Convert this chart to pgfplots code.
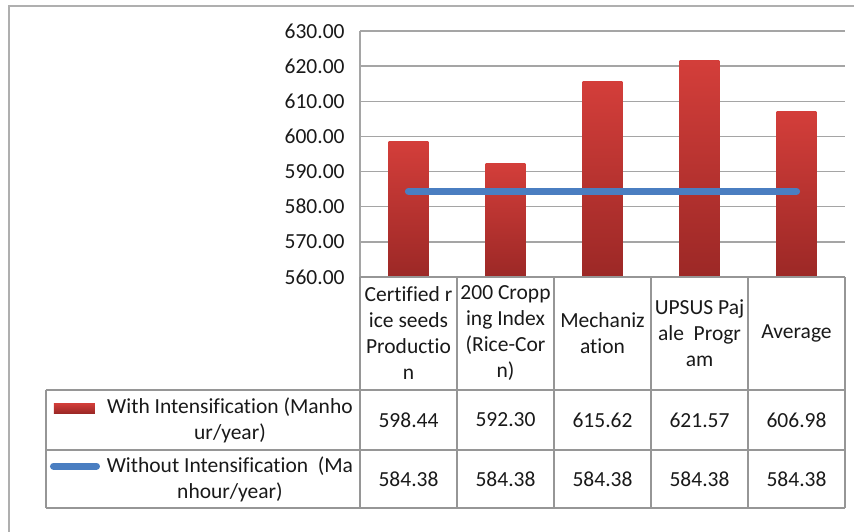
\documentclass[border=0pt]{standalone}
\usepackage{fontspec}
\setmainfont{Carlito}[Ligatures=NoCommon]
\usepackage{pgfplots}
\pgfplotsset{compat=1.18}
\definecolor{barTop}{RGB}{211,62,58}
\definecolor{barBot}{RGB}{156,40,38}
\definecolor{lineBlue}{RGB}{74,126,193}
\definecolor{gridGray}{RGB}{165,165,165}
\definecolor{tabGray}{RGB}{150,150,150}
\definecolor{frameGray}{RGB}{175,175,175}
\definecolor{txt}{RGB}{25,25,25}
\begin{document}
\fontsize{10.75}{13}\selectfont
\begin{tikzpicture}
\useasboundingbox (-180pt,-127pt) rectangle (247pt,138.5pt);
% outer chart frame
\draw[frameGray, line width=0.8pt] (-175.5pt,-140pt) -- (-175.5pt,135.5pt) -- (260pt,135.5pt);
\begin{axis}[
  at={(0pt,0pt)}, anchor=south west,
  width=242.5pt, height=123pt, scale only axis,
  xmin=-0.5, xmax=4.5, ymin=560, ymax=630,
  ytick={560,570,...,630}, xtick=\empty,
  ymajorgrids, grid style={gridGray, line width=0.75pt},
  separate axis lines,
  axis x line=none,
  axis y line*=left,
  y axis line style={gridGray, line width=0.75pt},
  ytick style={draw=none},
  yticklabel style={inner sep=0pt, xshift=-7.5pt, text=txt, font=\fontsize{10.75}{13}\selectfont},
  /pgf/number format/assume math mode=true,
  yticklabel={\pgfmathprintnumber[fixed, fixed zerofill, precision=2, 1000 sep={}]{\tick}},
]
\addplot[draw=none, top color=barTop, bottom color=barBot] coordinates {(-0.206,560) (-0.206,598.44) (0.206,598.44) (0.206,560)};
\addplot[draw=none, top color=barTop, bottom color=barBot] coordinates {(0.794,560) (0.794,592.30) (1.206,592.30) (1.206,560)};
\addplot[draw=none, top color=barTop, bottom color=barBot] coordinates {(1.794,560) (1.794,615.62) (2.206,615.62) (2.206,560)};
\addplot[draw=none, top color=barTop, bottom color=barBot] coordinates {(2.794,560) (2.794,621.57) (3.206,621.57) (3.206,560)};
\addplot[draw=none, top color=barTop, bottom color=barBot] coordinates {(3.794,560) (3.794,606.98) (4.206,606.98) (4.206,560)};
\addplot[lineBlue, line width=3.6pt, line cap=round] coordinates {(0,584.38) (1,584.38) (2,584.38) (3,584.38) (4,584.38)};
\end{axis}
% data table
\begin{scope}[tabGray, line width=0.6pt]
\draw (0pt,0pt) -- (242.5pt,0pt);
\foreach \yy in {-56.5,-86.5,-115.5} \draw (-157pt,\yy pt) -- (242.5pt,\yy pt);
\foreach \xx in {0,48.5,97,145.5,194,242.5} \draw (\xx pt,0pt) -- (\xx pt,-115.5pt);
\draw (-157pt,-56.5pt) -- (-157pt,-115.5pt);
\end{scope}
\begin{scope}[every node/.style={text=txt, inner sep=0pt, align=center, font=\fontsize{10.75}{13}\selectfont}]
\node at (24.25pt,-28.25pt) {Certified r\\ice seeds\\Productio\\n};
\node at (72.75pt,-28.25pt) {200 Cropp\\ing Index\\(Rice-Cor\\n)};
\node at (121.25pt,-28.25pt) {Mechaniz\\ation};
\node at (169.75pt,-28.25pt) {UPSUS Paj\\ale\ \ Progr\\am};
\node at (218.25pt,-28.25pt) {Average};
\node at (-65pt,-71.5pt) {With Intensification (Manho\\ur/year)};
\node at (-65pt,-101pt) {Without Intensification\ \ (Ma\\nhour/year)};
\node at (24.25pt,-71.5pt) {598.44};
\node at (72.75pt,-71.5pt) {592.30};
\node at (121.25pt,-71.5pt) {615.62};
\node at (169.75pt,-71.5pt) {621.57};
\node at (218.25pt,-71.5pt) {606.98};
\node at (24.25pt,-101pt) {584.38};
\node at (72.75pt,-101pt) {584.38};
\node at (121.25pt,-101pt) {584.38};
\node at (169.75pt,-101pt) {584.38};
\node at (218.25pt,-101pt) {584.38};
\end{scope}
% legend keys
\fill[top color=barTop, bottom color=barBot] (-153pt,-68pt) rectangle (-132.5pt,-63pt);
\draw[lineBlue, line width=3.5pt, line cap=round] (-153.25pt,-94.5pt) -- (-131.75pt,-94.5pt);
\end{tikzpicture}
\end{document}
